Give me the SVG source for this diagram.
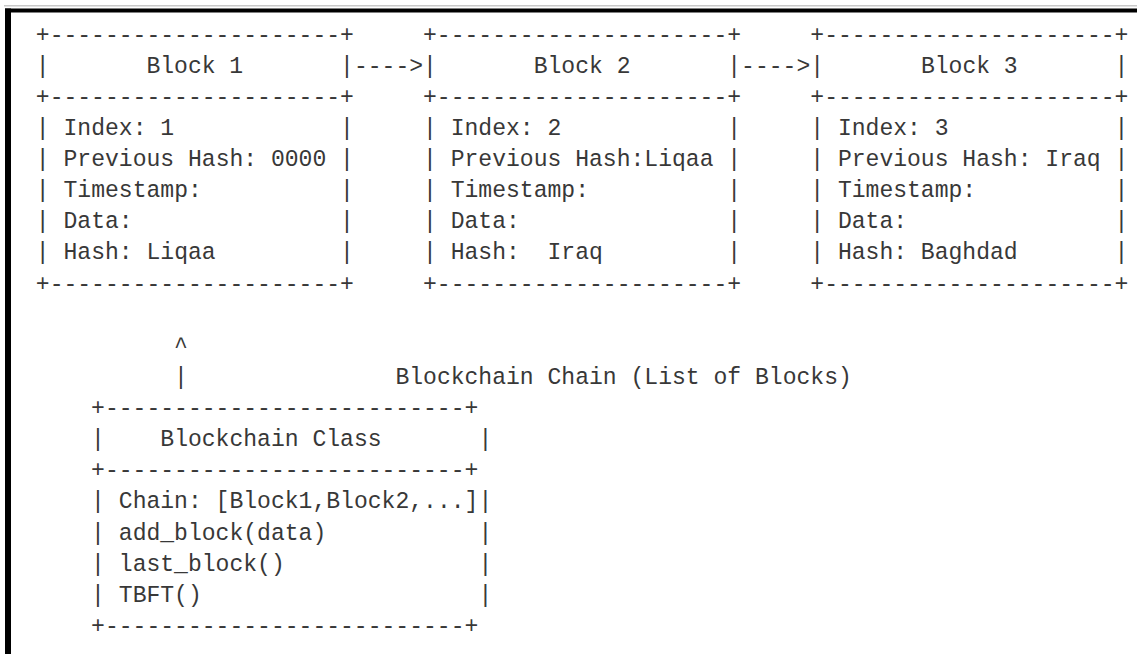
<svg xmlns="http://www.w3.org/2000/svg" width="1137" height="654" viewBox="0 0 1137 654">
<style>
text{font-family:"Liberation Mono","DejaVu Sans Mono",monospace;font-size:23.05px;fill:#383838;white-space:pre}
</style>
<rect x="0" y="0" width="1137" height="654" fill="#ffffff"/>
<g id="frame">
<rect x="4" y="5" width="1133" height="1.5" fill="#c8c8c8"/>
<rect x="5" y="8.5" width="1132" height="4" fill="#000000"/>
<rect x="5" y="8.5" width="6" height="646" fill="#000000"/>
</g>
<g id="block1">
<text x="35.8" y="41.6" xml:space="preserve">+---------------------+</text>
<text x="35.8" y="103.8" xml:space="preserve">+---------------------+</text>
<text x="35.8" y="290.5" xml:space="preserve">+---------------------+</text>
<text x="35.8" y="72.7">|</text><text x="340.1" y="72.7">|</text>
<text x="35.8" y="134.9">|</text><text x="340.1" y="134.9">|</text>
<text x="35.8" y="166.1">|</text><text x="340.1" y="166.1">|</text>
<text x="35.8" y="197.2">|</text><text x="340.1" y="197.2">|</text>
<text x="35.8" y="228.3">|</text><text x="340.1" y="228.3">|</text>
<text x="35.8" y="259.4">|</text><text x="340.1" y="259.4">|</text>
<text x="146.4" y="72.7">Block 1</text>
<text x="63.5" y="134.9">Index: 1</text>
<text x="63.5" y="166.1">Previous Hash: 0000</text>
<text x="63.5" y="197.2">Timestamp:</text>
<text x="63.5" y="228.3">Data:</text>
<text x="63.5" y="259.4">Hash: Liqaa</text>
</g>
<g id="block2">
<text x="423.0" y="41.6" xml:space="preserve">+---------------------+</text>
<text x="423.0" y="103.8" xml:space="preserve">+---------------------+</text>
<text x="423.0" y="290.5" xml:space="preserve">+---------------------+</text>
<text x="423.0" y="72.7">|</text><text x="727.3" y="72.7">|</text>
<text x="423.0" y="134.9">|</text><text x="727.3" y="134.9">|</text>
<text x="423.0" y="166.1">|</text><text x="727.3" y="166.1">|</text>
<text x="423.0" y="197.2">|</text><text x="727.3" y="197.2">|</text>
<text x="423.0" y="228.3">|</text><text x="727.3" y="228.3">|</text>
<text x="423.0" y="259.4">|</text><text x="727.3" y="259.4">|</text>
<text x="533.7" y="72.7">Block 2</text>
<text x="450.7" y="134.9">Index: 2</text>
<text x="450.7" y="166.1">Previous Hash:Liqaa</text>
<text x="450.7" y="197.2">Timestamp:</text>
<text x="450.7" y="228.3">Data:</text>
<text x="450.7" y="259.4" xml:space="preserve">Hash:  Iraq</text>
</g>
<g id="block3">
<text x="810.3" y="41.6" xml:space="preserve">+---------------------+</text>
<text x="810.3" y="103.8" xml:space="preserve">+---------------------+</text>
<text x="810.3" y="290.5" xml:space="preserve">+---------------------+</text>
<text x="810.3" y="72.7">|</text><text x="1114.5" y="72.7">|</text>
<text x="810.3" y="134.9">|</text><text x="1114.5" y="134.9">|</text>
<text x="810.3" y="166.1">|</text><text x="1114.5" y="166.1">|</text>
<text x="810.3" y="197.2">|</text><text x="1114.5" y="197.2">|</text>
<text x="810.3" y="228.3">|</text><text x="1114.5" y="228.3">|</text>
<text x="810.3" y="259.4">|</text><text x="1114.5" y="259.4">|</text>
<text x="920.9" y="72.7">Block 3</text>
<text x="837.9" y="134.9">Index: 3</text>
<text x="837.9" y="166.1">Previous Hash: Iraq</text>
<text x="837.9" y="197.2">Timestamp:</text>
<text x="837.9" y="228.3">Data:</text>
<text x="837.9" y="259.4">Hash: Baghdad</text>
</g>
<g id="connectors">
<text x="353.9" y="72.7" xml:space="preserve">----&gt;</text>
<text x="741.1" y="72.7" xml:space="preserve">----&gt;</text>
<text x="174.1" y="352.8">^</text>
<text x="174.1" y="383.9">|</text>
</g>
<g id="chain-label">
<text x="395.4" y="383.9">Blockchain Chain (List of Blocks)</text>
</g>
<g id="blockchain-class">
<text x="91.1" y="415.0" xml:space="preserve">+--------------------------+</text>
<text x="91.1" y="477.3" xml:space="preserve">+--------------------------+</text>
<text x="91.1" y="632.8" xml:space="preserve">+--------------------------+</text>
<text x="91.1" y="446.1">|</text><text x="478.4" y="446.1">|</text>
<text x="91.1" y="508.4">|</text><text x="478.4" y="508.4">|</text>
<text x="91.1" y="539.5">|</text><text x="478.4" y="539.5">|</text>
<text x="91.1" y="570.7">|</text><text x="478.4" y="570.7">|</text>
<text x="91.1" y="601.7">|</text><text x="478.4" y="601.7">|</text>
<text x="160.3" y="446.1">Blockchain Class</text>
<text x="118.8" y="508.4">Chain: [Block1,Block2,...]</text>
<text x="118.8" y="539.5">add_block(data)</text>
<text x="118.8" y="570.7">last_block()</text>
<text x="118.8" y="601.7">TBFT()</text>
</g>
</svg>
